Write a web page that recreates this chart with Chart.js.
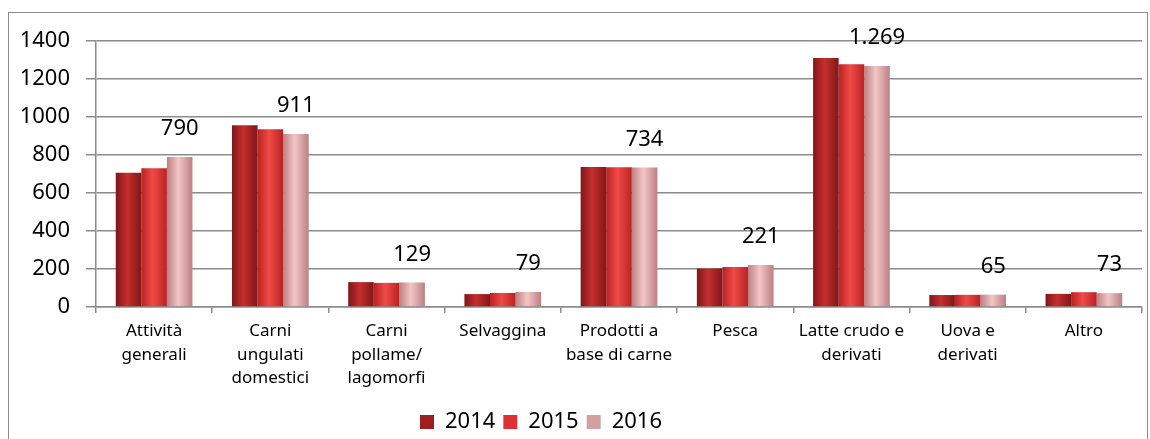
<!DOCTYPE html>
<html>
<head>
<meta charset="utf-8">
<script src="https://cdn.jsdelivr.net/npm/chart.js@4.4.1/dist/chart.umd.min.js"></script>
<style>
  html, body { margin: 0; padding: 0; background: #fff; }
  #wrap { position: relative; width: 1150px; height: 439px; }
  #frame { position: absolute; left: 8px; top: 12px; width: 1140px; height: 440px; border: 1px solid #8c8c8c; box-sizing: border-box; }
  canvas { position: absolute; left: 0; top: 0; }
</style>
</head>
<body>
<div id="wrap">
  <div id="frame"></div>
  <canvas id="chart" width="1150" height="439"></canvas>
</div>
<script>
const categories = [
    ['Attività', 'generali'],
    ['Carni', 'ungulati', 'domestici'],
    ['Carni', 'pollame/', 'lagomorfi'],
    'Selvaggina',
    ['Prodotti a', 'base di carne'],
    'Pesca',
    ['Latte crudo e', 'derivati'],
    ['Uova e', 'derivati'],
    'Altro',
];

const years = ['2014', '2015', '2016'];

const values2014 = [707, 956, 131, 68, 737, 203, 1311, 63, 69];
const values2015 = [730, 935, 127, 74, 736, 210, 1278, 64, 78];
const values2016 = [790, 911, 129, 79, 734, 221, 1269, 65, 73];

const yTicks = [0, 200, 400, 600, 800, 1000, 1200, 1400];

// shading of each series: [dark edge, light centre]
const seriesColors = [
    ['rgb(128, 22, 24)', 'rgb(198, 46, 46)'],
    ['rgb(186, 34, 36)', 'rgb(240, 74, 70)'],
    ['rgb(188, 128, 130)', 'rgb(242, 198, 198)'],
];
const legendColors = ['rgb(160, 30, 32)', 'rgb(220, 50, 50)', 'rgb(210, 160, 162)'];

function fmt(v) {
    return String(v).replace(/\B(?=(\d{3})+(?!\d))/g, '.');
}

// cylinder-like shading, set once the bars have their positions
const shadePlugin = {
    id: 'shade',
    beforeDatasetsDraw(chart) {
        const ctx = chart.ctx;
        chart.data.datasets.forEach((ds, i) => {
            chart.getDatasetMeta(i).data.forEach(bar => {
                const x0 = bar.x - bar.width / 2;
                const g = ctx.createLinearGradient(x0, 0, x0 + bar.width, 0);
                g.addColorStop(0, seriesColors[i][0]);
                g.addColorStop(0.45, seriesColors[i][1]);
                g.addColorStop(1, seriesColors[i][0]);
                bar.options.backgroundColor = g;
            });
        });
    }
};

// value labels above the 2016 bars
const labelPlugin = {
    id: 'labels2016',
    afterDatasetsDraw(chart) {
        const ctx = chart.ctx;
        const meta = chart.getDatasetMeta(2);
        ctx.save();
        ctx.font = '22px "Noto Sans"';
        ctx.fillStyle = '#000';
        ctx.textAlign = 'center';
        ctx.textBaseline = 'middle';
        meta.data.forEach((bar, j) => {
            ctx.fillText(fmt(values2016[j]), bar.x, bar.y - 28);
        });
        ctx.restore();
    }
};

// the legend sits a little left of centre and lower in the original
const legendShift = {
    id: 'legendShift',
    afterLayout(chart) {
        const lg = chart.legend;
        lg.left -= 30; lg.right -= 30;
        lg.top += 4; lg.bottom += 4;
    }
};

const data = {
    labels: categories,
    datasets: [
        { label: years[0], data: values2014, backgroundColor: () => legendColors[0] },
        { label: years[1], data: values2015, backgroundColor: () => legendColors[1] },
        { label: years[2], data: values2016, backgroundColor: () => legendColors[2] },
    ]
};

const chart = new Chart(document.getElementById('chart'), {
    type: 'bar',
    data: data,
    options: {
        responsive: false,
        animation: false,
        layout: { padding: { top: 41, right: 8, left: 0, bottom: 0 } },
        datasets: {
            bar: { categoryPercentage: 0.66, barPercentage: 1.0, borderWidth: 0 }
        },
        scales: {
            x: {
                afterFit(axis) { axis.height = 92; },
                grid: { drawOnChartArea: false, color: '#8c8c8c', lineWidth: 1.5, tickLength: 6 },
                border: { color: '#8c8c8c', width: 1.5 },
                ticks: {
                    color: '#000',
                    font: { family: '"Noto Sans"', size: 17, lineHeight: 1.4 },
                    maxRotation: 0,
                    autoSkip: false,
                    padding: 6,
                },
            },
            y: {
                min: 0,
                max: 1400,
                afterBuildTicks(axis) { axis.ticks = yTicks.map(v => ({ value: v })); },
                afterFit(axis) { axis.width = 96; },
                grid: { color: '#8c8c8c', lineWidth: 1.5, tickLength: 10 },
                border: { color: '#8c8c8c', width: 1.5 },
                ticks: {
                    color: '#000',
                    font: { family: '"Noto Sans"', size: 22 },
                    padding: 16,
                    callback: v => String(v),
                },
            }
        },
        plugins: {
            legend: {
                position: 'bottom',
                labels: {
                    color: '#000',
                    font: { family: '"Noto Sans"', size: 22 },
                    boxWidth: 14,
                    boxHeight: 14,
                    padding: 8,
                    generateLabels(c) {
                        return years.map((y, i) => ({
                            text: y,
                            fillStyle: legendColors[i],
                            strokeStyle: legendColors[i],
                            lineWidth: 0,
                            datasetIndex: i,
                        }));
                    }
                }
            },
            tooltip: { enabled: false }
        }
    },
    plugins: [shadePlugin, labelPlugin, legendShift]
});
</script>
</body>
</html>
